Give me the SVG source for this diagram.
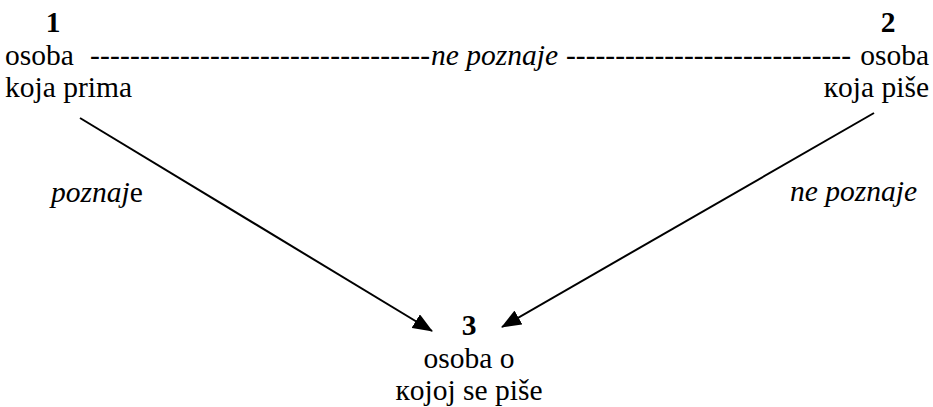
<svg xmlns="http://www.w3.org/2000/svg" width="933" height="407" viewBox="0 0 933 407" font-family="'Liberation Serif', 'Times New Roman', 'DejaVu Serif', serif">
<style>
text { font-family: "Liberation Serif", "Times New Roman", "DejaVu Serif", serif; font-size: 29.5px; fill: #000; }
.b { font-weight: bold; }
.i { font-style: italic; }
.c { text-anchor: middle; }
.r { text-anchor: end; }
.edge { stroke: #000; stroke-width: 2; fill: none; }
</style>
<defs>
<marker id="ah" markerWidth="20" markerHeight="16" refX="19" refY="8" orient="auto" markerUnits="userSpaceOnUse" viewBox="0 0 20 16">
<path d="M0,0 L20,8 L0,16 z" fill="#000"/>
</marker>
</defs>
<g id="node1">
<text class="b c" x="53" y="32">1</text>
<text x="5" y="65">osoba</text>
<text x="5" y="97">koja prima</text>
</g>
<g id="node2">
<text class="b c" x="888" y="32">2</text>
<text class="r" x="929" y="65">osoba</text>
<text class="r" x="929" y="97">кoja piše</text>
</g>
<g id="node3">
<text class="b c" x="469" y="335">3</text>
<text class="c" x="469" y="368">osoba o</text>
<text class="c" x="469" y="400">кojoj se piše</text>
</g>
<g id="connectors">
<text x="90" y="65" textLength="340" lengthAdjust="spacing">----------------------------------</text>
<text class="i" x="431" y="65">ne poznaje</text>
<text x="566" y="65" textLength="285" lengthAdjust="spacing">-----------------------------</text>
<line class="edge" x1="80" y1="118" x2="432" y2="331" marker-end="url(#ah)"/>
<line class="edge" x1="874" y1="113" x2="502" y2="327" marker-end="url(#ah)"/>
<text x="51" y="202"><tspan class="i">poznaj</tspan>e</text>
<text class="i r" x="917" y="201">ne poznaje</text>
</g>
</svg>
